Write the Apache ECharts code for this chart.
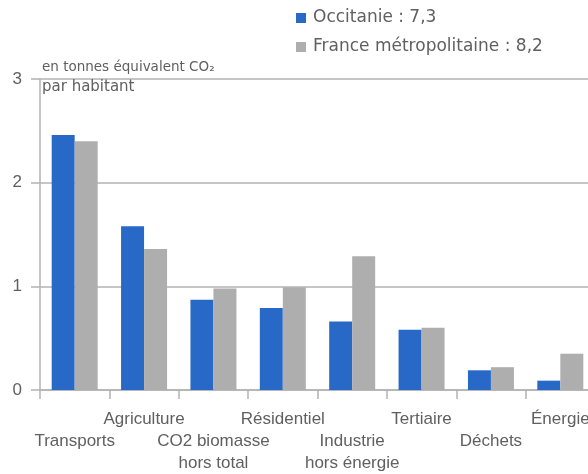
<!DOCTYPE html>
<html>
<head>
<meta charset="utf-8">
<script src="https://cdn.jsdelivr.net/npm/echarts@6/dist/echarts.min.js"></script>
<style>
  html, body { margin: 0; padding: 0; background: #fff; overflow: hidden; }
  /* the plot runs a few pixels past the right edge, as in the source image */
  #chart { width: 595px; height: 474px; }
</style>
</head>
<body>
<div id="chart"></div>
<script>
// secteurs d'émission (tonnes équivalent CO2 par habitant)
const categories = ['Transports', 'Agriculture', 'CO2 biomasse\nhors total', 'Résidentiel',
  'Industrie\nhors énergie', 'Tertiaire', 'Déchets', 'Énergie']
const occitanie = [2.46, 1.58, 0.87, 0.79, 0.66, 0.58, 0.19, 0.09]
const france = [2.40, 1.36, 0.98, 0.99, 1.29, 0.60, 0.22, 0.35]
const seriesNames = ['Occitanie : 7,3', 'France métropolitaine : 8,2']
const yTicks = [0, 1, 2, 3]

const textColor = '#606060'
const lineColor = '#b3b3b3'
const font = '"Liberation Sans", Arial, sans-serif'
const wideFont = '"DejaVu Sans", sans-serif'

const chart = echarts.init(document.getElementById('chart'), null, { renderer: 'canvas' })

chart.setOption({
  animation: false,
  textStyle: { fontFamily: font },
  title: {
    text: '{a|en tonnes équivalent CO₂}\n{b|par habitant}',
    left: 37,
    top: 52,
    textStyle: {
      fontWeight: 'normal',
      rich: {
        a: { fontSize: 13.5, fontWeight: 'normal', color: textColor, fontFamily: wideFont, lineHeight: 20 },
        b: { fontSize: 15, fontWeight: 'normal', color: textColor, fontFamily: wideFont, lineHeight: 20 }
      }
    }
  },
  legend: {
    data: seriesNames,
    orient: 'vertical',
    left: 291,
    top: 4,
    itemGap: 11,
    itemWidth: 10,
    itemHeight: 10,
    icon: 'rect',
    textStyle: { fontSize: 17, lineHeight: 18, color: textColor, fontFamily: wideFont, padding: [0, 0, 0, 2] }
  },
  grid: { left: 40, top: 79, right: 0, bottom: 83, containLabel: false },
  xAxis: {
    type: 'category',
    data: categories,
    axisLine: { lineStyle: { color: lineColor, width: 1.5 } },
    axisTick: { show: true, length: 9, lineStyle: { color: lineColor, width: 1.5 } },
    axisLabel: {
      interval: 0,
      hideOverlap: false,
      margin: 18,
      fontSize: 17,
      lineHeight: 22,
      color: textColor,
      fontFamily: font,
      formatter: (v, i) => (i % 2 === 0 ? '\n' + v : v)
    }
  },
  yAxis: {
    type: 'value',
    min: yTicks[0],
    max: yTicks[yTicks.length - 1],
    interval: 1,
    axisLine: { show: true, lineStyle: { color: lineColor, width: 1.5 } },
    axisTick: { show: true, length: 9, lineStyle: { color: lineColor, width: 1.5 } },
    splitLine: { lineStyle: { color: lineColor, width: 1.5 } },
    axisLabel: { margin: 18, fontSize: 17, padding: [4, 0, 0, 0], color: textColor, fontFamily: font }
  },
  series: [
    {
      name: seriesNames[0],
      type: 'bar',
      data: occitanie,
      barWidth: 23,
      barGap: '0%',
      itemStyle: { color: '#2869c8' }
    },
    {
      name: seriesNames[1],
      type: 'bar',
      data: france,
      barWidth: 23,
      barGap: '0%',
      itemStyle: { color: '#afaeaf' }
    }
  ]
})
</script>
</body>
</html>
